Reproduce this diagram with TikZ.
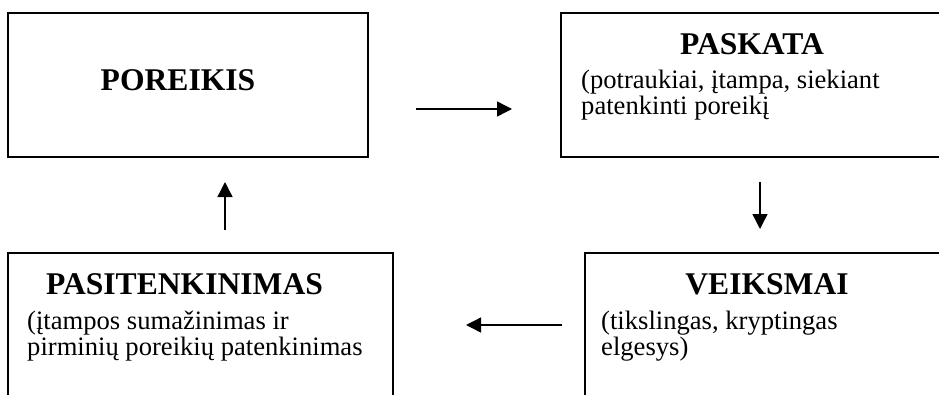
\documentclass[tikz,border=0pt]{standalone}
\usepackage{fontspec}
\setmainfont{Liberation Serif}
\usetikzlibrary{arrows.meta}
\tikzset{
  boxshape/.style={draw=black, line width=1.5pt, rectangle},
  titletext/.style={font=\bfseries\fontsize{31.6}{36}\selectfont, inner sep=0pt, anchor=base},
  bodytext/.style={font=\fontsize{26.6}{26}\selectfont, inner sep=0pt, anchor=base west},
  arr/.style={line width=1.4pt, -{Triangle[length=15pt,width=15pt]}},
}
\begin{document}
\begin{tikzpicture}[x=1pt,y=-1pt]
\useasboundingbox (0,0) rectangle (939,394);
\clip (0,0) rectangle (939,394);
% boxes
\draw[boxshape] (8,13) rectangle (368,157);
\draw[boxshape] (561,13) rectangle (950,157);
\draw[boxshape] (8,253) rectangle (393,410);
\draw[boxshape] (585,253) rectangle (950,410);
% texts
\node[titletext] (poreikis) at (178,90) {POREIKIS};
\node[titletext] (paskata) at (752,54) {PASKATA};
\node[bodytext] (paskataA) at (581,88) {(potraukiai, įtampa, siekiant};
\node[bodytext] (paskataB) at (581,114) {patenkinti poreikį};
\node[titletext] (veiksmai) at (767,294) {VEIKSMAI};
\node[bodytext] (veiksmaiA) at (601,329) {(tikslingas, kryptingas};
\node[bodytext] (veiksmaiB) at (601,355) {elgesys)};
\node[titletext] (pasit) at (184.5,294) {PASITENKINIMAS};
\node[bodytext] (pasitA) at (27,329) {(įtampos sumažinimas ir};
\node[bodytext] (pasitB) at (27,355) {pirminių poreikių patenkinimas};
% arrow end points
\coordinate (r1) at (416,109);
\coordinate (r2) at (512,109);
\coordinate (d1) at (760,182);
\coordinate (d2) at (760,229);
\coordinate (l1) at (562,325);
\coordinate (l2) at (466,325);
\coordinate (u1) at (225,230);
\coordinate (u2) at (225,182);
\draw[arr] (r1) -- (r2);
\draw[arr] (d1) -- (d2);
\draw[arr] (l1) -- (l2);
\draw[arr] (u1) -- (u2);
\end{tikzpicture}
\end{document}
